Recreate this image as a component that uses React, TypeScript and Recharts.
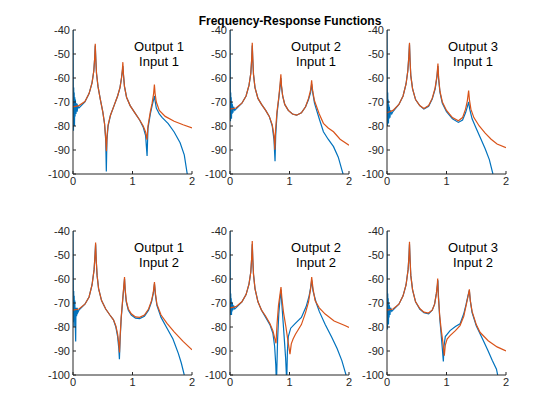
import React from 'react';
import { LineChart, Line, XAxis, YAxis } from 'recharts';

type Pt = [number, number];

// axis ticks
const X_TICKS = [0, 1, 2];
const Y_TICKS = [-100, -90, -80, -70, -60, -50, -40];

// [frequency, dB]
const measO1I1: Pt[] = [
  [0, -40], [0.004, -62], [0.008, -82], [0.012, -64], [0.016, -78], [0.02, -66], [0.025, -80], [0.03, -68],
  [0.035, -76], [0.04, -69], [0.05, -75], [0.06, -70.5], [0.07, -74], [0.08, -71.5], [0.1, -72.5], [0.2, -70],
  [0.27, -66.5], [0.32, -62], [0.35, -57], [0.365, -51.5], [0.374, -46.5], [0.383, -52], [0.395, -58], [0.42, -63.5],
  [0.46, -69], [0.5, -74], [0.53, -79], [0.55, -86], [0.56, -99], [0.57, -86], [0.59, -80], [0.63, -75.5],
  [0.69, -71.5], [0.75, -67.5], [0.79, -64], [0.815, -60], [0.83, -57], [0.838, -55], [0.847, -58.5], [0.865, -63.5],
  [0.9, -68], [0.96, -71.5], [1.04, -74.5], [1.12, -77.5], [1.18, -80.5], [1.22, -84], [1.245, -92.5], [1.26, -81],
  [1.3, -75], [1.33, -71.5], [1.355, -69], [1.368, -67.5], [1.38, -69.5], [1.4, -72.5], [1.45, -75], [1.5, -76.5],
  [1.6, -79], [1.7, -82.5], [1.8, -87], [1.87, -92], [1.92, -100],
];
const modelO1I1: Pt[] = [
  [0, -72], [0.1, -71.5], [0.2, -69.8], [0.27, -66.5], [0.32, -62], [0.35, -57], [0.365, -51.5], [0.374, -45.7],
  [0.383, -52], [0.395, -58], [0.42, -63.5], [0.46, -69], [0.5, -74], [0.53, -79], [0.55, -85], [0.562, -90.5],
  [0.572, -84], [0.59, -79.5], [0.63, -75.5], [0.69, -71.5], [0.75, -67.5], [0.79, -64], [0.815, -60], [0.83, -56.5],
  [0.838, -53.4], [0.847, -58], [0.865, -63.5], [0.9, -68], [0.96, -71.5], [1.04, -74.5], [1.12, -77.5], [1.18, -80],
  [1.22, -82.5], [1.243, -85.7], [1.26, -80], [1.3, -74], [1.33, -70.5], [1.355, -66.5], [1.368, -62.7], [1.38, -66.5],
  [1.4, -70], [1.45, -73.5], [1.55, -76], [1.7, -78], [1.85, -79.5], [2, -80.8],
];

const measO2I1: Pt[] = [
  [0, -40], [0.004, -60], [0.008, -78], [0.012, -66], [0.016, -76], [0.02, -68], [0.025, -77], [0.03, -70],
  [0.035, -75], [0.04, -71], [0.05, -74.5], [0.06, -72], [0.08, -73.5], [0.1, -73], [0.2, -70.5], [0.27, -67.5],
  [0.32, -63], [0.35, -58], [0.365, -52], [0.374, -46.5], [0.383, -52.5], [0.395, -58.5], [0.42, -64], [0.47, -68.5],
  [0.53, -71], [0.6, -73.5], [0.66, -76], [0.71, -80], [0.74, -86], [0.757, -94.7], [0.768, -84], [0.79, -75],
  [0.82, -68.5], [0.84, -64], [0.855, -60], [0.865, -63.5], [0.885, -67.5], [0.92, -71], [0.98, -73.5], [1.05, -75],
  [1.12, -75.5], [1.2, -74.5], [1.27, -72], [1.32, -69], [1.355, -66], [1.372, -62.5], [1.39, -66], [1.42, -70.5],
  [1.45, -73], [1.5, -77], [1.57, -82.4], [1.65, -85.5], [1.74, -88.6], [1.82, -93], [1.88, -98.3], [1.9, -100],
];
const modelO2I1: Pt[] = [
  [0, -73], [0.1, -72.5], [0.2, -70.5], [0.27, -67.5], [0.32, -63], [0.35, -58], [0.365, -52], [0.374, -45.3],
  [0.383, -52], [0.395, -58.5], [0.42, -64], [0.47, -68.5], [0.53, -71], [0.6, -73.5], [0.66, -76], [0.71, -79.5],
  [0.74, -84], [0.754, -89.9], [0.765, -82], [0.79, -74], [0.82, -68], [0.84, -63], [0.855, -58.5], [0.865, -63],
  [0.885, -67.5], [0.92, -71], [0.98, -73.5], [1.05, -75], [1.12, -75.5], [1.2, -74.5], [1.27, -72], [1.32, -68.5],
  [1.355, -65], [1.372, -61], [1.39, -65.5], [1.42, -69.5], [1.5, -75], [1.57, -78.9], [1.65, -80.8], [1.74, -82.4],
  [1.85, -85.5], [2, -88],
];

const measO3I1: Pt[] = [
  [0, -40], [0.004, -64], [0.008, -80], [0.012, -66], [0.016, -78], [0.02, -69], [0.025, -79], [0.03, -71],
  [0.035, -77], [0.04, -72], [0.05, -76.5], [0.06, -73.5], [0.08, -75], [0.1, -74], [0.2, -71], [0.27, -67.5],
  [0.32, -62.5], [0.35, -57], [0.367, -51], [0.378, -46], [0.388, -53], [0.4, -59], [0.43, -64.5], [0.48, -69],
  [0.55, -71.5], [0.62, -72.9], [0.7, -71.8], [0.76, -68.8], [0.81, -64.5], [0.84, -59.5], [0.856, -55], [0.868, -60.5],
  [0.89, -66], [0.93, -70.5], [1.0, -74], [1.1, -77], [1.2, -78.5], [1.27, -77.5], [1.32, -74.5], [1.35, -72],
  [1.372, -70], [1.39, -73], [1.43, -77], [1.5, -81], [1.58, -85.5], [1.65, -89.5], [1.72, -94], [1.78, -100],
];
const modelO3I1: Pt[] = [
  [0, -74.5], [0.1, -73.5], [0.2, -71], [0.27, -67.5], [0.32, -62.5], [0.35, -57], [0.367, -51], [0.378, -45.3],
  [0.388, -53], [0.4, -59], [0.43, -64.5], [0.48, -69], [0.55, -71.5], [0.62, -72.7], [0.7, -71.5], [0.76, -68.5],
  [0.81, -64], [0.84, -59], [0.856, -54], [0.868, -60], [0.89, -65.5], [0.93, -70], [1.0, -73.5], [1.1, -76.5],
  [1.2, -77.8], [1.27, -76.5], [1.32, -73], [1.35, -69.5], [1.372, -65.2], [1.385, -69], [1.41, -73], [1.46, -76.5],
  [1.55, -80], [1.65, -83], [1.75, -85.5], [1.85, -87.5], [2, -89],
];

const measO1I2: Pt[] = [
  [0, -40], [0.004, -62], [0.008, -78], [0.012, -65], [0.016, -80], [0.02, -67], [0.025, -77], [0.03, -69],
  [0.045, -86], [0.05, -72], [0.06, -75.5], [0.07, -72], [0.08, -74], [0.1, -73], [0.2, -70.5], [0.27, -67.5],
  [0.32, -62.5], [0.355, -56], [0.37, -50], [0.38, -45.5], [0.39, -52], [0.405, -58.5], [0.43, -64], [0.48, -69],
  [0.55, -72.5], [0.62, -75], [0.68, -77], [0.72, -80], [0.75, -84], [0.77, -89], [0.78, -93.4], [0.792, -85],
  [0.81, -76.5], [0.83, -70.5], [0.85, -64.5], [0.866, -60], [0.876, -64.5], [0.895, -69.5], [0.93, -73], [0.98, -75],
  [1.05, -76.3], [1.12, -76.5], [1.2, -75.5], [1.27, -73], [1.32, -69.5], [1.35, -66], [1.369, -62], [1.385, -66.5],
  [1.41, -71], [1.48, -76], [1.58, -80.5], [1.68, -85], [1.77, -91], [1.82, -95], [1.87, -100],
];
const modelO1I2: Pt[] = [
  [0, -73], [0.1, -72.5], [0.2, -70.5], [0.27, -67.5], [0.32, -62.5], [0.355, -56], [0.37, -50], [0.38, -44.8],
  [0.39, -52], [0.405, -58.5], [0.43, -64], [0.48, -69], [0.55, -72.5], [0.62, -75], [0.68, -77], [0.72, -79.5],
  [0.75, -83], [0.77, -87], [0.782, -90.6], [0.792, -84], [0.81, -76], [0.83, -70], [0.85, -64], [0.866, -59.2],
  [0.876, -64], [0.895, -69], [0.93, -72.5], [0.98, -74.5], [1.05, -75.8], [1.12, -76], [1.2, -75], [1.27, -72.5],
  [1.32, -69], [1.35, -65.5], [1.369, -61.3], [1.385, -66], [1.41, -70.5], [1.48, -75], [1.58, -78.5], [1.7, -82],
  [1.85, -86], [2, -89.5],
];

const measO2I2: Pt[] = [
  [0, -40], [0.004, -60], [0.008, -75], [0.012, -66], [0.016, -74], [0.02, -68], [0.025, -75], [0.03, -69.5],
  [0.035, -73.5], [0.04, -70], [0.05, -73], [0.06, -71], [0.08, -72.5], [0.1, -72], [0.2, -69.5], [0.27, -66.5],
  [0.32, -62], [0.35, -57], [0.365, -51], [0.374, -45.5], [0.383, -52], [0.395, -58], [0.42, -64], [0.47, -69.5],
  [0.53, -73], [0.6, -76], [0.67, -79], [0.72, -82.5], [0.75, -88], [0.77, -96], [0.775, -100], [0.785, -100],
  [0.8, -85], [0.82, -74.5], [0.84, -68.5], [0.857, -64.5], [0.87, -70], [0.89, -77], [0.91, -84], [0.935, -93],
  [0.948, -100], [0.956, -100], [0.965, -90], [0.98, -84], [1.02, -80.5], [1.09, -78.7], [1.2, -76], [1.28, -71.5],
  [1.33, -67], [1.36, -63], [1.373, -60.5], [1.395, -65], [1.45, -70], [1.5, -73.5], [1.6, -79], [1.71, -84.3],
  [1.8, -89], [1.88, -94], [1.93, -98.3], [1.95, -100],
];
const modelO2I2: Pt[] = [
  [0, -72], [0.1, -71.5], [0.2, -69.5], [0.27, -66.5], [0.32, -62], [0.35, -57], [0.365, -51], [0.374, -44.2],
  [0.383, -51.5], [0.395, -58], [0.42, -64], [0.47, -69.5], [0.53, -73], [0.6, -75.5], [0.67, -78.5], [0.72, -81.5],
  [0.75, -84.5], [0.773, -86.8], [0.79, -79], [0.815, -71], [0.84, -66.5], [0.857, -63.4], [0.872, -68], [0.9, -74],
  [0.94, -80], [0.975, -86], [1.008, -91.3], [1.03, -87], [1.06, -85], [1.1, -83], [1.2, -79], [1.27, -74],
  [1.32, -69.5], [1.355, -64], [1.373, -59.2], [1.395, -64], [1.43, -69], [1.5, -72], [1.6, -74.6], [1.75, -77.5],
  [1.93, -79.4], [2, -80.2],
];

const measO3I2: Pt[] = [
  [0, -40], [0.004, -62], [0.008, -81], [0.012, -66], [0.016, -78], [0.02, -68], [0.025, -79], [0.03, -70],
  [0.035, -76], [0.04, -71], [0.05, -75], [0.06, -72], [0.08, -73.5], [0.1, -73], [0.2, -70.5], [0.27, -67],
  [0.32, -62.5], [0.355, -56], [0.37, -50], [0.378, -45.5], [0.388, -52], [0.4, -58.5], [0.43, -64.5], [0.48, -69.5],
  [0.55, -72.5], [0.62, -74], [0.7, -74.5], [0.76, -73], [0.8, -70.5], [0.83, -66], [0.847, -62.5], [0.855, -60.5],
  [0.865, -67], [0.885, -76], [0.91, -83], [0.93, -89], [0.947, -94.4], [0.958, -88], [0.98, -84], [1.06, -81.5],
  [1.15, -79.8], [1.227, -78.7], [1.29, -74.5], [1.33, -70.5], [1.36, -67], [1.384, -64.8], [1.4, -69], [1.43, -74],
  [1.5, -79.5], [1.62, -85.7], [1.7, -90], [1.77, -94], [1.84, -97.6], [1.86, -100],
];
const modelO3I2: Pt[] = [
  [0, -73], [0.1, -72.5], [0.2, -70.5], [0.27, -67], [0.32, -62.5], [0.355, -56], [0.37, -50], [0.378, -44.5],
  [0.388, -52], [0.4, -58.5], [0.43, -64.5], [0.48, -69.5], [0.555, -72.4], [0.62, -73.8], [0.695, -74.2], [0.76, -73],
  [0.8, -70.5], [0.83, -66], [0.845, -62.5], [0.852, -59.8], [0.862, -67], [0.885, -75], [0.91, -81], [0.94, -86.5],
  [0.963, -92], [0.98, -87.5], [1.01, -85], [1.06, -83.6], [1.15, -81.5], [1.227, -79.4], [1.29, -75.5], [1.33, -71],
  [1.36, -67.5], [1.384, -64.3], [1.4, -69], [1.43, -73.5], [1.5, -79], [1.563, -82.2], [1.7, -85.7], [1.85, -88.3],
  [2, -90],
];

const FONT = '"Liberation Sans", Arial, Helvetica, sans-serif';
const AX = '#262626';
const BLUE = '#0072BD';
const ORANGE = '#D95319';

const PLOT_W = 119;
const PLOT_H = 144;
const AX_W = 40;
const PAD_T = 10;
const PAD_R = 10;
const AX_H = 25;

const PANELS = [
  { out: 1, inp: 1, meas: measO1I1, model: modelO1I1, left: 73, top: 30 },
  { out: 2, inp: 1, meas: measO2I1, model: modelO2I1, left: 230, top: 30 },
  { out: 3, inp: 1, meas: measO3I1, model: modelO3I1, left: 387, top: 30 },
  { out: 1, inp: 2, meas: measO1I2, model: modelO1I2, left: 73, top: 231 },
  { out: 2, inp: 2, meas: measO2I2, model: modelO2I2, left: 230, top: 231 },
  { out: 3, inp: 2, meas: measO3I2, model: modelO3I2, left: 387, top: 231 },
];

const toRows = (pts: Pt[]) => pts.map(([f, db]) => ({ f, db }));

const tickStyle = { fontSize: 11, fill: AX, fontFamily: FONT };

const Panel = ({ p }: { p: (typeof PANELS)[number] }) => (
  <>
    <div style={{ position: 'absolute', left: p.left - AX_W, top: p.top - PAD_T }}>
      <LineChart
        width={AX_W + PLOT_W + PAD_R}
        height={PAD_T + PLOT_H + AX_H}
        margin={{ top: PAD_T, right: PAD_R, left: 0, bottom: 0 }}
      >
        <XAxis
          xAxisId="b" type="number" dataKey="f" domain={[0, 2]} ticks={X_TICKS} allowDataOverflow
          height={AX_H} stroke={AX} tick={tickStyle} tickSize={-3} tickMargin={6} interval={0}
        />
        <XAxis
          xAxisId="t" orientation="top" type="number" dataKey="f" domain={[0, 2]} ticks={X_TICKS}
          height={0} stroke={AX} tick={false} tickSize={-3}
        />
        <YAxis
          yAxisId="l" type="number" domain={[-100, -40]} ticks={Y_TICKS} allowDataOverflow
          width={AX_W} stroke={AX} tick={tickStyle} tickSize={-3} tickMargin={6} interval={0}
        />
        <YAxis
          yAxisId="r" orientation="right" type="number" domain={[-100, -40]} ticks={Y_TICKS}
          width={0} stroke={AX} tick={false} tickSize={-3}
        />
        <Line
          xAxisId="b" yAxisId="l" data={toRows(p.meas)} dataKey="db" type="linear"
          stroke={BLUE} strokeWidth={1.2} dot={false} isAnimationActive={false}
        />
        <Line
          xAxisId="b" yAxisId="l" data={toRows(p.model)} dataKey="db" type="linear"
          stroke={ORANGE} strokeWidth={1.2} dot={false} isAnimationActive={false}
        />
      </LineChart>
    </div>
    {/* channel label, top right of each axes */}
    <div
      style={{
        position: 'absolute', left: p.left + PLOT_W - 33 - 45, top: p.top + 9, width: 90,
        textAlign: 'center', fontFamily: FONT, fontSize: 13, lineHeight: '15px', color: '#000',
      }}
    >
      <div>Output {p.out}</div>
      <div>Input {p.inp}</div>
    </div>
  </>
);

export default function App() {
  return (
    <div style={{ position: 'absolute', left: 0, top: 0, width: 560, height: 420, background: '#fff' }}>
      <div
        style={{
          position: 'absolute', left: 190, top: 14, width: 200, textAlign: 'center',
          fontFamily: FONT, fontSize: 12, fontWeight: 'bold', lineHeight: '15px', color: '#000',
        }}
      >
        Frequency-Response Functions
      </div>
      {PANELS.map((p) => (
        <Panel key={`${p.out}-${p.inp}`} p={p} />
      ))}
    </div>
  );
}
